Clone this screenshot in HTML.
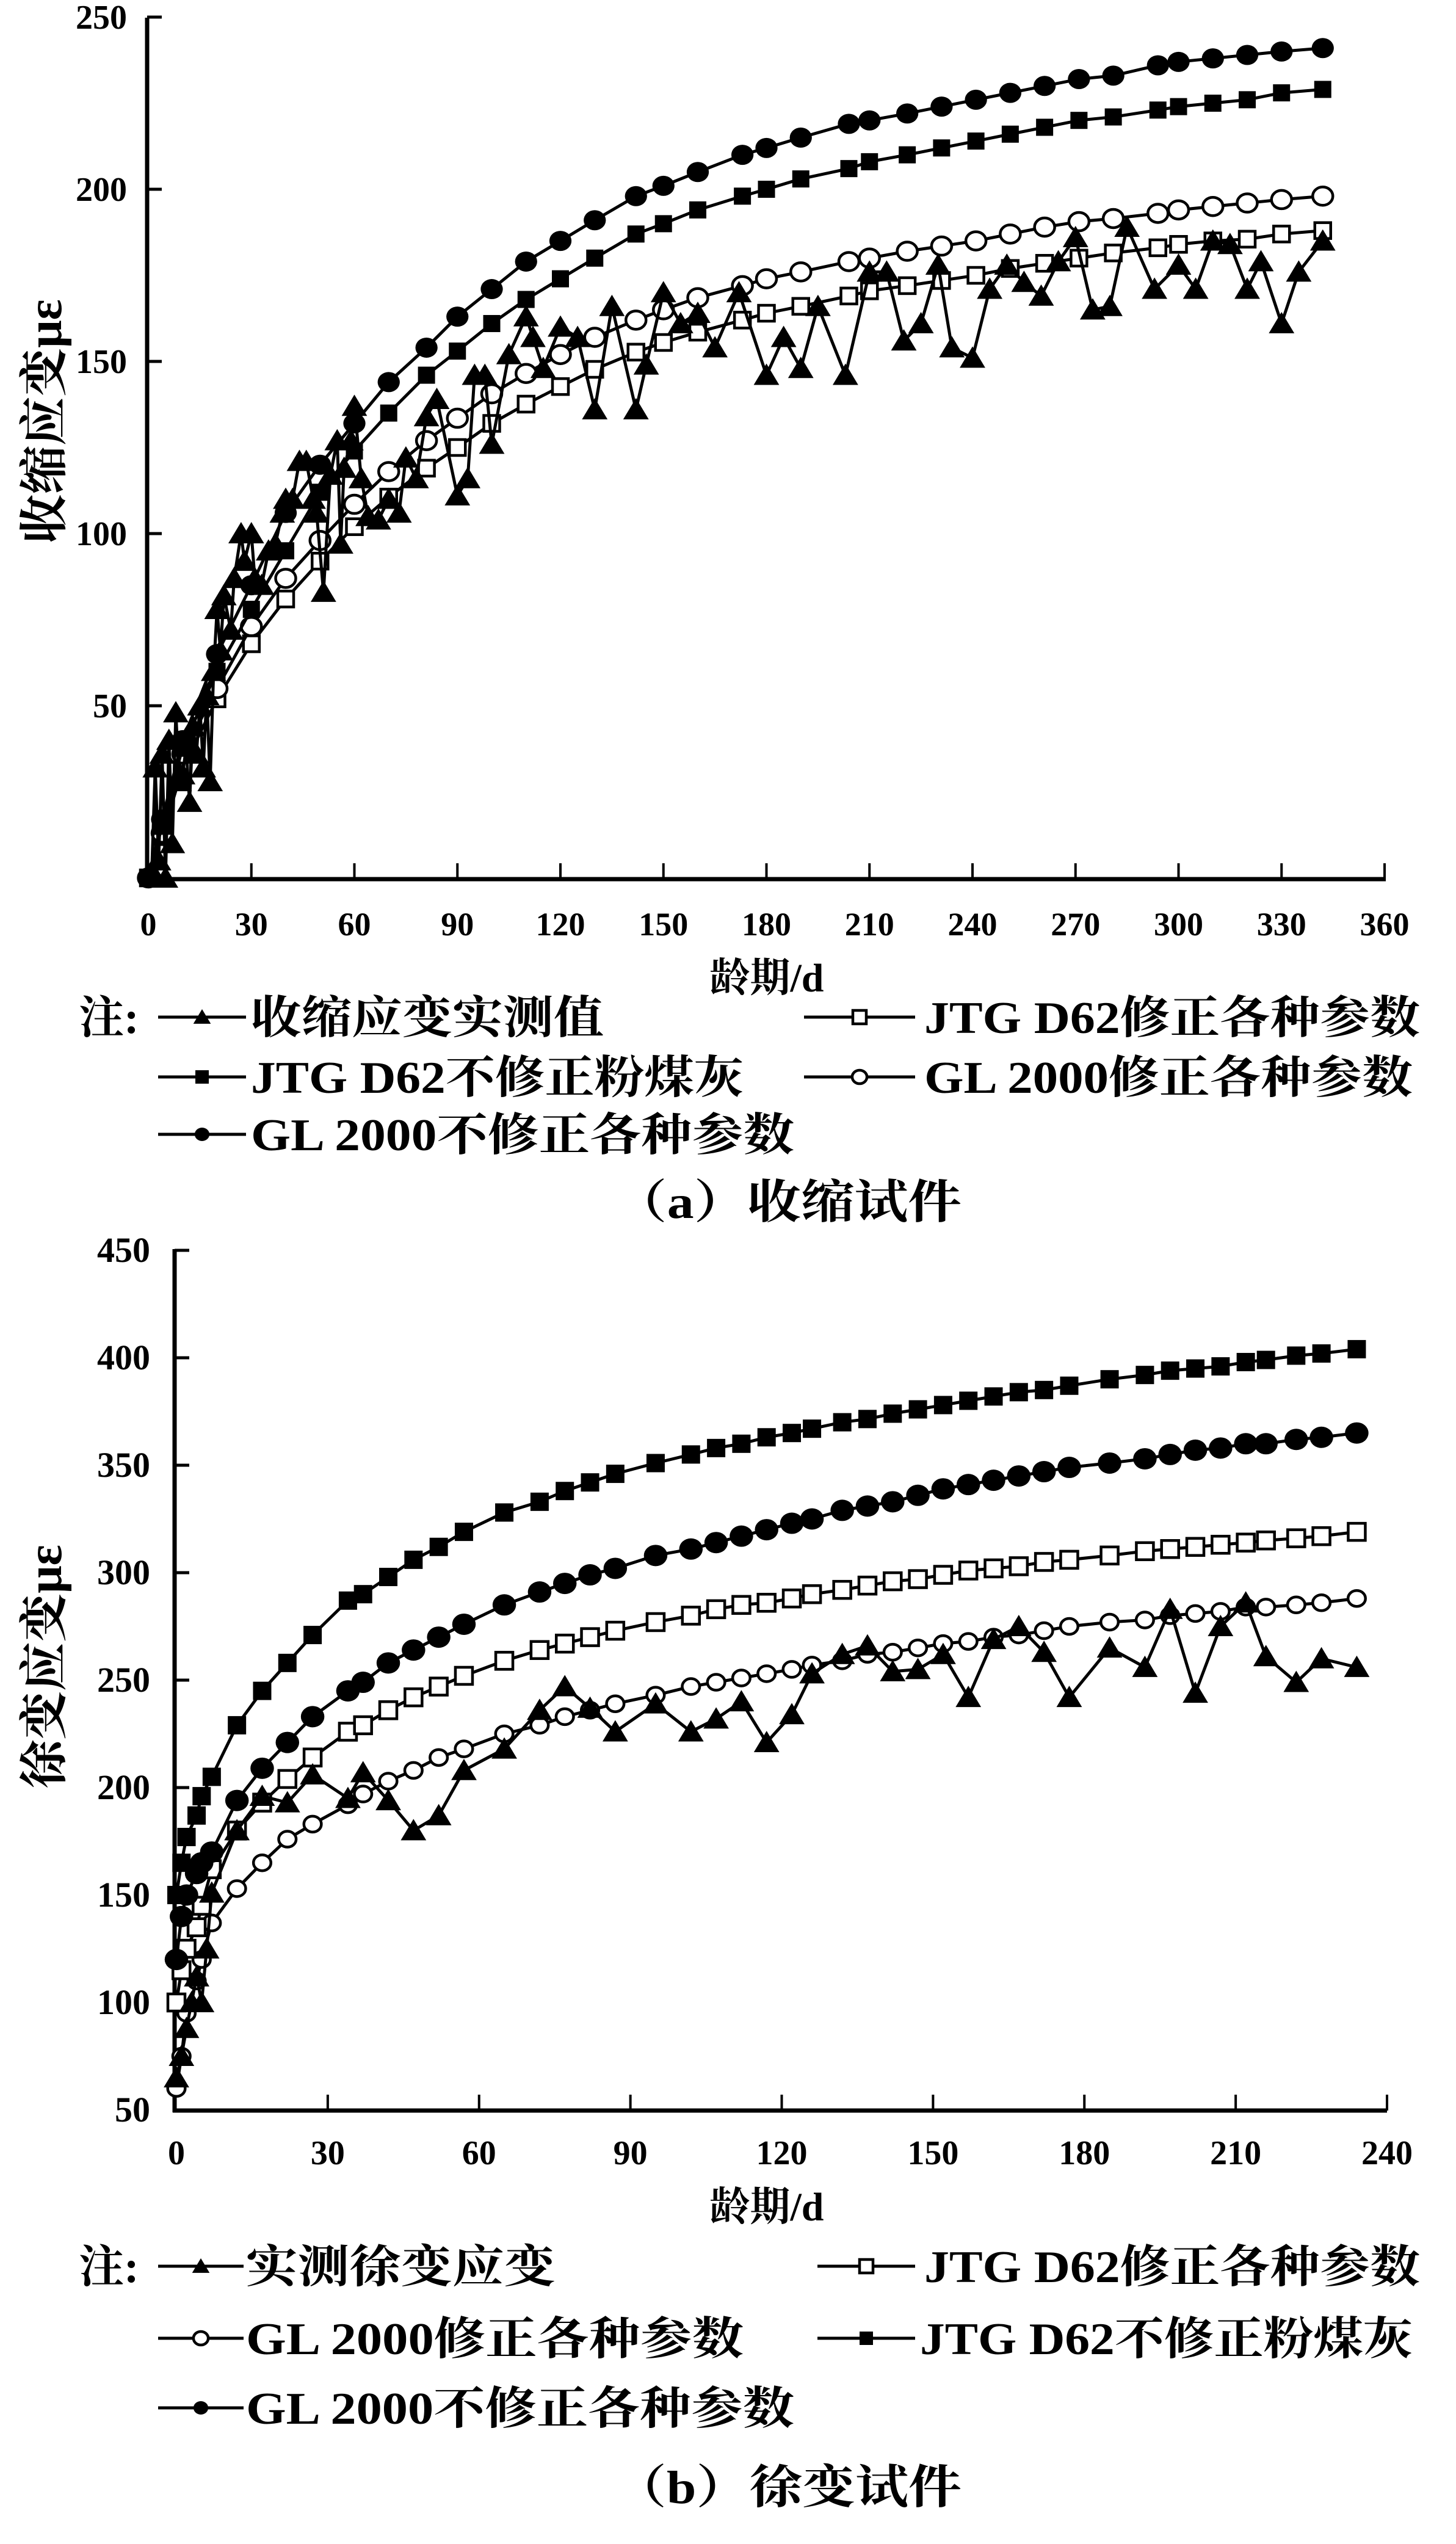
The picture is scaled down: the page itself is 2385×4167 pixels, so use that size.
<!DOCTYPE html>
<html><head><meta charset="utf-8"><style>
html,body{margin:0;padding:0;background:#fff;}
svg{display:block;}
.tk{font-family:"Liberation Serif","Noto Serif CJK SC",serif;font-weight:bold;fill:#000;}
.lg{font-family:"Liberation Serif","Noto Serif CJK SC",serif;font-weight:bold;fill:#000;}
</style></head><body>
<svg id="root" xmlns="http://www.w3.org/2000/svg" width="2385" height="4167" viewBox="0 0 2385 4167">
<rect width="2385" height="4167" fill="#fff"/>
<g id="chartA"></g>
<g id="chartB"></g>
</svg>
<script>
// ---------- Chart (a) data ----------
const aModelDays=[0,4,10,20,30,40,50,60,70,81,90,100,110,120,130,142,150,160,173,180,190,204,210,221,231,241,251,261,271,281,294,300,310,320,330,342];
const aGLno=[0,17,40,65,85,106,120,132,144,154,163,171,179,185,191,198,201,205,210,212,215,219,220,222,224,226,228,230,232,233,236,237,238,239,240,241];
const aJTGno=[0,15,38,60,78,95,112,124,135,146,153,161,168,174,180,187,190,194,198,200,203,206,208,210,212,214,216,218,220,221,223,224,225,226,228,229];
const aGLfix=[0,13,36,55,73,87,98,108.5,118,127,133.5,140.6,146.5,152,157,162,165,168.5,172,174,176,179,180,182,183.5,185,187,189,190.6,191.5,193,194,195,196,197,198];
const aJTGfix=[0,12,32,52,68,81,92,102,110.6,119,125,132,137.6,142.7,147.7,152.7,155.5,158.5,162,164,166,169,170.5,172,173.5,175,177,178.5,180,181.5,183,184,185,185.5,187,188];
const aMeasDays=[1,2,3,4,5,6,7,8,9,10,11,12,13,14,15,16,17,18,19,20,21,22,24,25,27,28,30,31,33,35,37,39,40,42,44,46,48,49,51,53,55,56,57,59,60,62,64,67,70,73,75,78,81,84,90,93,95,98,100,105,110,112,115,120,125,130,135,142,145,150,155,160,165,172,180,185,190,195,203,210,215,220,225,230,234,240,245,250,255,260,265,270,275,280,285,293,300,305,310,315,320,324,330,335,342];
const aMeas=[2,32,5,36,0,40,10,48,28,30,38,22,44,36,50,32,53,28,60,78,66,82,72,87,100,92,100,87,85,95,97,106,110,110,121,121,110,106,83,117,127,97,119,127,137,116,105,104,110,106,122,116,134,139,111,116,146,146,126,152,163,157,148,160,157,136,166,136,149,170,161,164,154,170,146,157,148,166,146,176,176,156,161,178,154,151,171,178,173,169,179,186,165,166,189,171,178,171,185,184,171,179,161,176,185];
const aXTicks=[0,30,60,90,120,150,180,210,240,270,300,330,360];
const aYTicks=[50,100,150,200,250];

// ---------- Chart (b) data ----------
const bModelDays=[0,1,2,4,5,7,12,17,22,27,34,37,42,47,52,57,65,72,77,82,87,95,102,107,112,117,122,126,132,137,142,147,152,157,162,167,172,177,185,192,197,202,207,212,216,222,227,234];
const bJTGno=[150,165,177,187,196,205,229,245,258,271,287,290,298,306,312,319,328,333,338,342,346,351,355,358,360,363,365,367,370,371.5,374,376,378,380,382,384,385,387,390,392,394,395,396,398,399,401,402,404];
const bGLno=[120,140,150,160,165,170,194,209,221,233,245,249,258,264,270,276,285,291,295,299,302,308,311,314,317,320,323,325,329,331,333,336,339,341,343,345,347,349,351,353,355,357,358,360,360,362,363,365];
const bJTGfix=[100,115,125,135,145,162,180,193,204,214,226,229,236,242,247,252,259,264,267,270,273,277,280,283,285,286,288,290,292,294,296,297,299,301,302,303,305,306,308,310,311,312,313,314,315,316,317,319];
const bGLfix=[60,75,95,110,120,137,153,165,176,183,192,197,203,208,214,218,225,229,233,236,239,243,247,249,251,253,255,257,259,262,263,265,267,268,270,271,273,275,277,278,280,281,282,284,284,285,286,288];
const bMeasDays=[0,1,2,3,4,5,6,7,12,17,22,27,34,37,42,47,52,57,65,72,77,82,87,95,102,107,112,117,122,126,132,137,142,147,152,157,162,167,172,177,185,192,197,202,207,212,216,222,227,234];
const bMeas=[65,75,88,100,112,100,125,151,180,196,193,206,195,207,194,180,187,208,218,236,247,237,226,239,226,232,240,221,234,253,262,266,254,255,262,242,269,275,263,242,265,256,283,244,275,286,261,249,260,256];
const bXTicks=[0,30,60,90,120,150,180,210,240];
const bYTicks=[50,100,150,200,250,300,350,400,450];

const NS="http://www.w3.org/2000/svg";
function mk(tag,attrs,parent){const e=document.createElementNS(NS,tag);for(const k in attrs)e.setAttribute(k,attrs[k]);parent.appendChild(e);return e;}

function axA(d){return 243+d*5.625;}
function ayA(v){return 1438-v*5.64;}
function axB(d){return 289+d*8.2625;}
function ayB(v){return 3456-(v-50)*3.52;}

function marker(g,type,x,y,s){
  let e;
  if(type==='tri'){
    e=mk('polygon',{points:(x-s*0.55)+','+(y+s*0.42)+' '+(x+s*0.55)+','+(y+s*0.42)+' '+x+','+(y-s*0.5),fill:'#000'},g);
  }else if(type==='sqf'){
    e=mk('rect',{x:x-s/2,y:y-s/2,width:s,height:s,fill:'#000'},g);
  }else if(type==='sqo'){
    e=mk('rect',{x:x-s/2,y:y-s/2,width:s,height:s,fill:'#fff',stroke:'#000','stroke-width':4.5},g);
  }else if(type==='cif'){
    e=mk('ellipse',{cx:x,cy:y,rx:s*0.55,ry:s/2,fill:'#000'},g);
  }else{
    e=mk('ellipse',{cx:x,cy:y,rx:s*0.55,ry:s/2,fill:'#fff',stroke:'#000','stroke-width':4.5},g);
  }
  return e;
}

function series(parent,name,days,vals,fx,fy,type,size){
  const g=mk('g',{},parent);
  
  
  const pts=days.map((d,i)=>fx(d)+','+fy(vals[i])).join(' ');
  const pl=mk('polyline',{points:pts,fill:'none',stroke:'#000','stroke-width':5,'stroke-linejoin':'round'},g);
  
  
  days.forEach((d,i)=>{
    const m=marker(g,type,fx(d),fy(vals[i]),size);
    
    
  });
}

function text(parent,name,x,y,str,size,anchor,cls,extra){
  const t=mk('text',Object.assign({x:x,y:y,'font-size':size,'text-anchor':anchor||'start',class:cls||'tk'},extra||{}),parent);
  t.textContent=str;
  
  
  return t;
}

function legendItem(parent,name,x1,x2,yc,type,label,tx,tlen){
  const g=mk('g',{},parent);
  
  
  mk('line',{x1:x1,y1:yc,x2:x2,y2:yc,stroke:'#000','stroke-width':5},g);
  marker(g,type,(x1+x2)/2,yc,type==='tri'?26:22);
  const t=mk('text',{x:tx,y:yc+26,'font-size':74,class:'lg',textLength:tlen,lengthAdjust:'spacingAndGlyphs'},g);
  t.textContent=label;
}

function buildAxes(g,p){
  const ax=mk('g',{},g);
  
  
  mk('line',{x1:p.x0,y1:p.yTop,x2:p.x0,y2:p.y0+3,stroke:'#000','stroke-width':7},ax);
  mk('line',{x1:p.x0-3,y1:p.y0,x2:p.xEnd,y2:p.y0,stroke:'#000','stroke-width':7},ax);
  p.yTicks.forEach(v=>{
    const y=p.fy(v);
    mk('line',{x1:p.x0,y1:y,x2:p.x0+24,y2:y,stroke:'#000','stroke-width':5},ax);
    text(g,p.pre+'y-tick-label',p.yLabR,y+19,String(v),p.yFont,'end');
  });
  p.xTicks.forEach(d=>{
    const x=p.fx(d);
    if(d>0) mk('line',{x1:x,y1:p.y0,x2:x,y2:p.y0-26,stroke:'#000','stroke-width':4},ax);
    text(g,p.pre+'x-tick-label',x,p.xLabY,String(d),p.xFont,'middle');
  });
}

(function(){
  const g=document.getElementById('chartA');
  buildAxes(g,{pre:'a-',x0:241,y0:1440,yTop:29,xEnd:2270,fx:axA,fy:ayA,xTicks:aXTicks,yTicks:aYTicks,yLabR:208,yFont:56,xLabY:1532,xFont:54});
  text(g,'a-y-axis-title',0,0,'收缩应变με',80,'middle','tk',{transform:'translate(100,690) rotate(-90)'});
  text(g,'a-x-axis-title',1256,1624,'龄期/d',66,'middle');
  series(g,'a-series-jtg-fixed',aModelDays,aJTGfix,axA,ayA,'sqo',26);
  series(g,'a-series-gl-fixed',aModelDays,aGLfix,axA,ayA,'cio',30);
  series(g,'a-series-jtg-unfixed',aModelDays,aJTGno,axA,ayA,'sqf',28);
  series(g,'a-series-gl-unfixed',aModelDays,aGLno,axA,ayA,'cif',33);
  series(g,'a-series-measured',aMeasDays,aMeas,axA,ayA,'tri',38);
  const lg=mk('g',{},g);
  
  
  text(lg,'a-legend-note',129,1692,'注:',74,'start','lg');
  legendItem(lg,'a-legend-measured',259,403,1666,'tri','收缩应变实测值',411,578);
  legendItem(lg,'a-legend-jtg-fixed',1317,1499,1666,'sqo','JTG D62修正各种参数',1514,812);
  legendItem(lg,'a-legend-jtg-unfixed',259,403,1764,'sqf','JTG D62不修正粉煤灰',411,807);
  legendItem(lg,'a-legend-gl-fixed',1317,1499,1764,'cio','GL 2000修正各种参数',1514,800);
  legendItem(lg,'a-legend-gl-unfixed',259,403,1858,'cif','GL 2000不修正各种参数',411,890);
  text(g,'a-caption',1290,1995,'（a）收缩试件',76,'middle','lg',{textLength:570,lengthAdjust:'spacingAndGlyphs'});
})();

(function(){
  const g=document.getElementById('chartB');
  buildAxes(g,{pre:'b-',x0:286,y0:3457,yTop:2046,xEnd:2272,fx:axB,fy:ayB,xTicks:bXTicks,yTicks:bYTicks,yLabR:246,yFont:58,xLabY:3545,xFont:56});
  text(g,'b-y-axis-title',0,0,'徐变应变με',80,'middle','tk',{transform:'translate(100,2730) rotate(-90)'});
  text(g,'b-x-axis-title',1256,3637,'龄期/d',66,'middle');
  series(g,'b-series-gl-fixed',bModelDays,bGLfix,axB,ayB,'cio',26);
  series(g,'b-series-jtg-fixed',bModelDays,bJTGfix,axB,ayB,'sqo',28);
  series(g,'b-series-measured',bMeasDays,bMeas,axB,ayB,'tri',38);
  series(g,'b-series-gl-unfixed',bModelDays,bGLno,axB,ayB,'cif',35);
  series(g,'b-series-jtg-unfixed',bModelDays,bJTGno,axB,ayB,'sqf',30);
  const lg=mk('g',{},g);
  
  
  text(lg,'b-legend-note',129,3738,'注:',74,'start','lg');
  legendItem(lg,'b-legend-measured',259,399,3712,'tri','实测徐变应变',403,507);
  legendItem(lg,'b-legend-jtg-fixed',1339,1499,3712,'sqo','JTG D62修正各种参数',1514,812);
  legendItem(lg,'b-legend-gl-fixed',259,399,3830,'cio','GL 2000修正各种参数',403,815);
  legendItem(lg,'b-legend-jtg-unfixed',1339,1499,3830,'sqf','JTG D62不修正粉煤灰',1507,807);
  legendItem(lg,'b-legend-gl-unfixed',259,399,3944,'cif','GL 2000不修正各种参数',403,898);
  text(g,'b-caption',1290,4100,'（b）徐变试件',76,'middle','lg',{textLength:570,lengthAdjust:'spacingAndGlyphs'});
})();
</script>
</body></html>
